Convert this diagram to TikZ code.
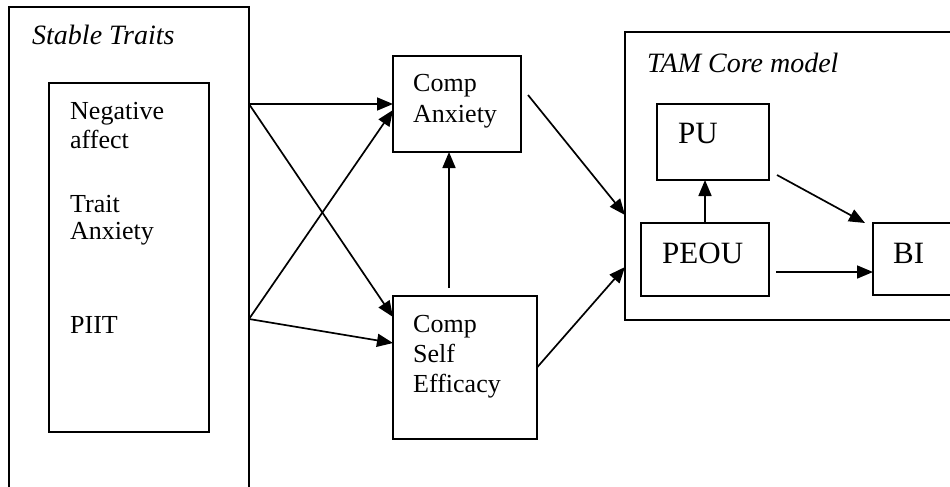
\documentclass[tikz,border=0pt]{standalone}
\usepackage{fontspec}
\setmainfont{Liberation Serif}
\usetikzlibrary{arrows.meta}
\tikzset{
  box/.style={draw, line width=2pt, inner sep=0pt, outer sep=0pt, anchor=north west},
  arr/.style={line width=1.7pt, -{Triangle[length=16pt,width=13pt]}},
  txt/.style={anchor=base west, inner sep=0pt, font=\fontsize{26}{29}\selectfont},
  bigtxt/.style={anchor=base west, inner sep=0pt, font=\fontsize{31}{34}\selectfont},
  ttl/.style={anchor=base west, inner sep=0pt, font=\fontsize{28}{30}\selectfont\itshape}
}
\begin{document}
\begin{tikzpicture}[x=1pt,y=-1pt]
\useasboundingbox (0,0) rectangle (950,487);
% boxes
\node[box, minimum width=240pt, minimum height=490pt] (outer) at (9,7) {};
\node[box, minimum width=160pt, minimum height=349pt] (inner) at (49,83) {};
\node[box, minimum width=128pt, minimum height=96pt] (ca) at (393,56) {};
\node[box, minimum width=144pt, minimum height=143pt] (cse) at (393,296) {};
\node[box, minimum width=340pt, minimum height=288pt] (tam) at (625,32) {};
\node[box, minimum width=112pt, minimum height=76pt] (pu) at (657,104) {};
\node[box, minimum width=128pt, minimum height=73pt] (peou) at (641,223) {};
\node[box, minimum width=90pt, minimum height=72pt] (bi) at (873,223) {};
% titles
\node[ttl] (tst) at (32,45) {Stable Traits};
\node[ttl] (ttam) at (647,73) {TAM Core model};
% inner texts
\node[txt] (n1) at (70,119) {Negative};
\node[txt] (n2) at (70,148) {affect};
\node[txt] (n3) at (70,212) {Trait};
\node[txt] (n4) at (70,239) {Anxiety};
\node[txt] (n5) at (70,333) {PIIT};
\node[txt] (c1) at (413,91) {Comp};
\node[txt] (c2) at (413,122) {Anxiety};
\node[txt] (e1) at (413,332) {Comp};
\node[txt] (e2) at (413,362) {Self};
\node[txt] (e3) at (413,392) {Efficacy};
\node[bigtxt] (lpu) at (678,143) {PU};
\node[bigtxt] (lpeou) at (662,263) {PEOU};
\node[bigtxt] (lbi) at (893,263) {BI};
% connector ends
\coordinate (s1) at (249,104);
\coordinate (s2) at (249,319);
\coordinate (v1) at (449,288);
\coordinate (a1) at (528,95);
\coordinate (t1) at (625,215);
\coordinate (t2) at (625,267);
\coordinate (p1) at (777,175);
\coordinate (b1) at (865,223);
\coordinate (p2) at (776,272);
% connectors
\draw[arr] (s1) -- (ca.west);
\draw[arr] (s1) -- ([yshift=50.5pt]cse.west);
\draw[arr] (s2) -- ([yshift=-6pt]ca.west);
\draw[arr] (s2) -- ([yshift=24.5pt]cse.west);
\draw[arr] (v1) -- (v1 |- ca.south);
\draw[arr] (a1) -- (t1);
\draw[arr] (cse.east) -- (t2);
\draw[arr] (peou.north) -- (peou.north |- pu.south);
\draw[arr] (p1) -- (b1);
\draw[arr] (p2) -- (p2 -| bi.west);
\end{tikzpicture}
\end{document}
